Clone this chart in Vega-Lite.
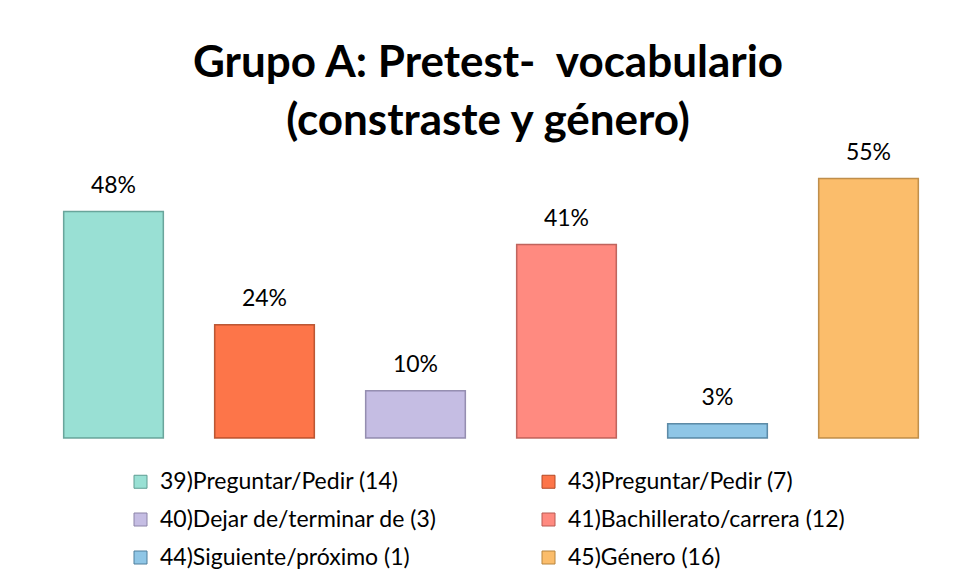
{
  "$schema": "https://vega.github.io/schema/vega-lite/v6.json",
  "width": 906,
  "height": 283,
  "autosize": {"type": "none"},
  "padding": {"left": 38, "top": 155, "right": 9, "bottom": 141},
  "background": "white",
  "config": {"view": {"stroke": null}},
  "title": {
    "text": ["Grupo A: Pretest- \u00a0vocabulario", "(constraste y género)"],
    "font": "Lato",
    "fontSize": 44,
    "fontWeight": "bold",
    "color": "#000000",
    "lineHeight": 58,
    "anchor": "middle",
    "dx": -3,
    "offset": -2
  },
  "data": {
    "values": [
      {"item": "39)Preguntar/Pedir (14)", "pct": 0.48, "label": "48%"},
      {"item": "43)Preguntar/Pedir (7)", "pct": 0.24, "label": "24%"},
      {"item": "40)Dejar de/terminar de (3)", "pct": 0.10, "label": "10%"},
      {"item": "41)Bachillerato/carrera (12)", "pct": 0.41, "label": "41%"},
      {"item": "44)Siguiente/próximo (1)", "pct": 0.03, "label": "3%"},
      {"item": "45)Género (16)", "pct": 0.55, "label": "55%"}
    ]
  },
  "encoding": {
    "x": {
      "field": "item",
      "type": "nominal",
      "sort": null,
      "scale": {"paddingInner": 0.34, "paddingOuter": 0.17},
      "axis": null
    },
    "y": {
      "field": "pct",
      "type": "quantitative",
      "scale": {"domain": [0, 0.6], "nice": false},
      "axis": null
    }
  },
  "layer": [
    {
      "mark": {"type": "bar", "strokeWidth": 1.5, "strokeOpacity": 0.9},
      "encoding": {
        "color": {
          "field": "item",
          "type": "nominal",
          "scale": {
            "domain": ["39)Preguntar/Pedir (14)", "40)Dejar de/terminar de (3)", "44)Siguiente/próximo (1)", "43)Preguntar/Pedir (7)", "41)Bachillerato/carrera (12)", "45)Género (16)"],
            "range": ["#99e0d4", "#c5bde3", "#8fc6e6", "#fd7549", "#ff8a80", "#fbbd6b"]
          },
          "legend": {
            "title": null,
            "orient": "none",
            "legendX": 91,
            "legendY": 315,
            "columns": 2,
            "columnPadding": 100,
            "rowPadding": 14,
            "symbolType": "square",
            "symbolSize": 169,
            "symbolStrokeWidth": 1,
            "symbolStrokeColor": "#6f6f6f",
            "labelFont": "Lato",
            "labelFontSize": 23,
            "labelColor": "#000000",
            "labelOffset": 8,
            "labelLimit": 500
          }
        },
        "stroke": {
          "field": "item",
          "type": "nominal",
          "scale": {
            "domain": ["39)Preguntar/Pedir (14)", "40)Dejar de/terminar de (3)", "44)Siguiente/próximo (1)", "43)Preguntar/Pedir (7)", "41)Bachillerato/carrera (12)", "45)Género (16)"],
            "range": ["#5e9c92", "#8c84a8", "#4f7f9c", "#b34a26", "#b85a52", "#b8853f"]
          },
          "legend": null
        }
      }
    },
    {
      "mark": {"type": "text", "font": "Lato", "fontSize": 23, "color": "#000000", "baseline": "alphabetic", "dy": -19},
      "encoding": {
        "text": {"field": "label"}
      }
    }
  ]
}
